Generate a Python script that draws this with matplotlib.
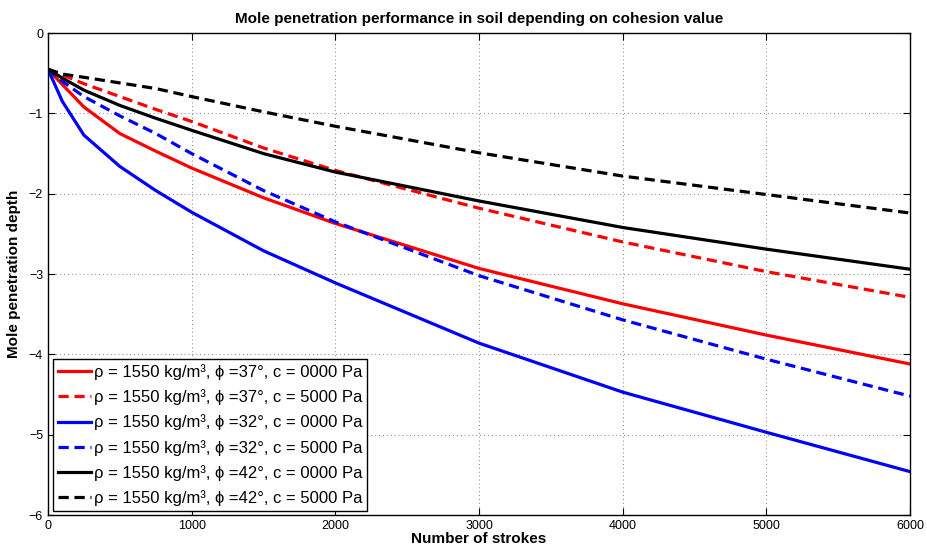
import matplotlib
matplotlib.use("Agg")
import matplotlib.pyplot as plt

plt.rcParams['font.family'] = ['Liberation Sans', 'DejaVu Sans']

strokes = [0, 100, 250, 500, 750, 1000, 1500, 2000, 3000, 4000, 5000, 6000]

# depth values
depth_37_c0 = [-0.45, -0.64, -0.92, -1.25, -1.47, -1.68, -2.05, -2.37, -2.93, -3.37, -3.76, -4.12]
depth_37_c5 = [-0.45, -0.52, -0.63, -0.79, -0.95, -1.10, -1.43, -1.71, -2.18, -2.60, -2.97, -3.29]
depth_32_c0 = [-0.45, -0.85, -1.27, -1.66, -1.96, -2.23, -2.71, -3.11, -3.86, -4.47, -4.97, -5.46]
depth_32_c5 = [-0.45, -0.60, -0.79, -1.03, -1.25, -1.50, -1.96, -2.35, -3.02, -3.57, -4.06, -4.52]
depth_42_c0 = [-0.45, -0.56, -0.71, -0.90, -1.06, -1.21, -1.50, -1.73, -2.09, -2.42, -2.69, -2.94]
depth_42_c5 = [-0.45, -0.51, -0.55, -0.62, -0.69, -0.79, -0.98, -1.16, -1.49, -1.78, -2.01, -2.24]

labels = [
    "ρ = 1550 kg/m³, ϕ =37°, c = 0000 Pa",
    "ρ = 1550 kg/m³, ϕ =37°, c = 5000 Pa",
    "ρ = 1550 kg/m³, ϕ =32°, c = 0000 Pa",
    "ρ = 1550 kg/m³, ϕ =32°, c = 5000 Pa",
    "ρ = 1550 kg/m³, ϕ =42°, c = 0000 Pa",
    "ρ = 1550 kg/m³, ϕ =42°, c = 5000 Pa",
]

fig = plt.figure(figsize=(9.28, 5.52), dpi=100)
ax = fig.add_axes([0.0517, 0.067, 0.929, 0.873])

series = [depth_37_c0, depth_37_c5, depth_32_c0, depth_32_c5, depth_42_c0, depth_42_c5]
colors = ['#ff0000', '#ff0000', '#0000ff', '#0000ff', '#000000', '#000000']
for i, d in enumerate(series):
    ls = '-' if i % 2 == 0 else '--'
    line, = ax.plot(strokes, d, ls, color=colors[i], lw=2.3, label=labels[i])
    if ls == '--':
        line.set_dashes((3.2, 1.8))

ax.set_xlim(0, 6000)
ax.set_ylim(-6, 0)
ax.set_xticks(range(0, 6001, 1000))
ax.set_yticks(range(-6, 1))
ax.grid(True, linestyle=(0, (1, 3)), color='#808080', lw=0.7)
ax.tick_params(direction='in', top=True, right=True, labelsize=9, length=5)
for s in ax.spines.values():
    s.set_linewidth(1.0)

ax.set_title("Mole penetration performance in soil depending on cohesion value",
             fontsize=11, fontweight='bold', pad=7)
ax.set_xlabel("Number of strokes", fontsize=11, fontweight='bold', labelpad=0)
ax.set_ylabel("Mole penetration depth", fontsize=11, fontweight='bold', labelpad=6)

leg = ax.legend(loc='lower left', bbox_to_anchor=(0.006, 0.008), fontsize=12,
                handlelength=2.0, handletextpad=0.15, borderaxespad=0,
                labelspacing=0.56, fancybox=False, framealpha=1,
                edgecolor='black', borderpad=0.3)
leg.get_frame().set_linewidth(1.0)

fig.savefig("out.png", dpi=100)
